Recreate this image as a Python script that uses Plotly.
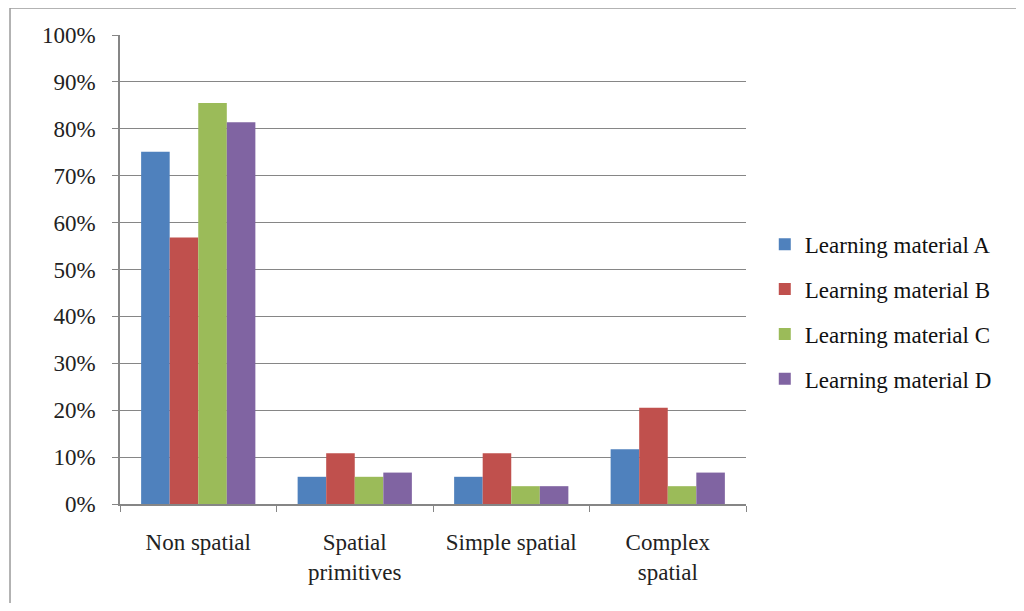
import plotly.graph_objects as go

categories = ["Non spatial", "Spatial<br>primitives", "Simple spatial", "Complex<br>spatial"]
series_names = ["Learning material A", "Learning material B", "Learning material C", "Learning material D"]
material_a = [75.1, 5.8, 5.8, 11.7]
material_b = [56.8, 10.8, 10.8, 20.5]
material_c = [85.5, 5.8, 3.8, 3.8]
material_d = [81.4, 6.7, 3.8, 6.7]
y_ticks = [0, 10, 20, 30, 40, 50, 60, 70, 80, 90, 100]

colors = ["#4F81BD", "#C0504D", "#9BBB59", "#8064A2"]
FONT = "Liberation Serif, Times New Roman, serif"
AXIS_GREY = "#868686"
BORDER_GREY = "#9a9a9a"

fig = go.Figure()

for i, (name, vals) in enumerate(zip(series_names, [material_a, material_b, material_c, material_d])):
    fig.add_trace(go.Bar(
        x=categories,
        y=vals,
        name=name,
        marker=dict(color=colors[i], line=dict(width=0)),
        legendgroup=name,
    ))

# outer chart border: only its top and left edges are inside the frame
fig.add_shape(type="line", xref="paper", yref="paper",
              x0=-0.1757, y0=1.0576, x1=1.6, y1=1.0576,
              line=dict(color=BORDER_GREY, width=1.5), layer="below")
fig.add_shape(type="line", xref="paper", yref="paper",
              x0=-0.1757, y0=1.0576, x1=-0.1757, y1=-0.5,
              line=dict(color=BORDER_GREY, width=1.5), layer="below")

# page body adds an 8px margin; keep the figure inside the window (no scrollbars)
fig.update_layout(
    barmode="group",
    bargap=0.27,
    bargroupgap=0,
    width=1008,
    height=595,
    margin=dict(l=112, r=270, t=27, b=99),
    plot_bgcolor="white",
    paper_bgcolor="white",
    font=dict(family=FONT, size=23, color="#222222"),
    legend=dict(
        x=1.030, y=0.41, xanchor="left", yanchor="middle",
        font=dict(family=FONT, size=23, color="#111111"),
        tracegroupgap=12,
        itemwidth=30,
        bgcolor="rgba(0,0,0,0)",
    ),
    xaxis=dict(
        showline=True, linecolor=AXIS_GREY, linewidth=1.5,
        ticks="outside", tickson="boundaries", ticklen=6, tickcolor=AXIS_GREY,
        ticklabelstandoff=17,
        showgrid=False,
    ),
    yaxis=dict(
        range=[0, 100],
        tickvals=y_ticks,
        ticktext=[f"{v}%" for v in y_ticks],
        showline=True, linecolor=AXIS_GREY, linewidth=1.5,
        ticks="outside", ticklen=6, tickcolor=AXIS_GREY,
        ticklabelstandoff=12,
        showgrid=True, gridcolor=AXIS_GREY, gridwidth=1.2,
        zeroline=False,
    ),
)

fig.write_html("out.html")
